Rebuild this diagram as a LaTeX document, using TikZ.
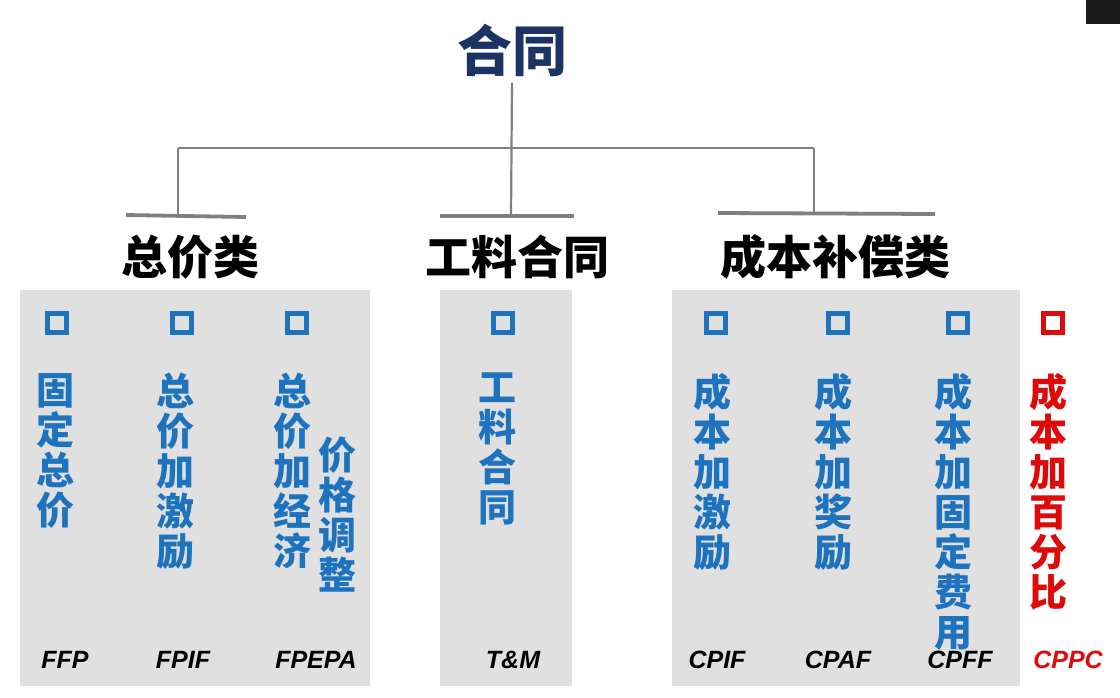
\documentclass[tikz,border=0pt]{standalone}
\usepackage{fontspec}
\newfontfamily\cjk{Noto Sans CJK SC}
\newfontfamily\lat{Liberation Sans}
\definecolor{cblue}{RGB}{30,115,190}
\definecolor{cred}{RGB}{222,10,10}
\definecolor{cnavy}{RGB}{28,52,100}
\definecolor{cpanel}{RGB}{224,224,224}
\definecolor{cline}{RGB}{128,128,128}
\begin{document}
\begin{tikzpicture}[x=1pt,y=-1pt,
  conn/.style={draw=cline,line width=2.2pt},
  bar/.style={draw=cline,line width=3.8pt},
  cat/.style={font=\cjk\bfseries\fontsize{46}{46}\selectfont,text=black,inner sep=0},
  vt/.style={font=\cjk\bfseries\fontsize{38}{40}\selectfont,text=cblue,align=center,anchor=north,inner sep=0},
  sq/.style={draw=cblue,line width=5pt,minimum size=19pt,inner sep=0},
  abbr/.style={font=\lat\bfseries\itshape\fontsize{25}{25}\selectfont,text=black,inner sep=0}
]
\useasboundingbox (0,0) rectangle (1120,697);
\fill[white] (0,0) rectangle (1120,697);
\fill[black!90] (1086,0) rectangle (1120,24);
% panels
\fill[cpanel] (20,290) rectangle (370,686);
\fill[cpanel] (440,290) rectangle (572,686);
\fill[cpanel] (672,290) rectangle (1020,686);
% title
\node[font=\cjk\bfseries\fontsize{55}{55}\selectfont,text=cnavy,inner sep=0] (root) at (512,50) {合同};
% tree
\coordinate (jc) at (511,148);
\coordinate (jl) at (178,148);
\coordinate (jr) at (814,148);
\coordinate (bl) at (178,216);
\coordinate (bm) at (511,217);
\coordinate (br) at (814,214);
\coordinate (bl1) at (126,215); \coordinate (bl2) at (246,217);
\coordinate (bm1) at (440,216); \coordinate (bm2) at (574,216);
\coordinate (br1) at (718,213); \coordinate (br2) at (935,214);
\draw[conn] (root.south) ++(0,6) -- (bm);
\draw[conn] (jl) -- (jr);
\draw[conn] (jl) -- (bl);
\draw[conn] (jr) -- (br);
\draw[bar] (bl1) -- (bl2);
\draw[bar] (bm1) -- (bm2);
\draw[bar] (br1) -- (br2);
% categories
\node[cat] (c1) at (190,257) {总价类};
\node[cat] (c2) at (517,257) {工料合同};
\node[cat] (c3) at (835,257) {成本补偿类};
% squares
\node[sq] (s1) at (57,323) {};
\node[sq] (s2) at (182,323) {};
\node[sq] (s3) at (297,323) {};
\node[sq] (s4) at (503,323) {};
\node[sq] (s5) at (716,323) {};
\node[sq] (s6) at (838,323) {};
\node[sq] (s7) at (958,323) {};
\node[sq,draw=cred] (s8) at (1053,323) {};
% vertical texts
\node[vt] (t1) at (55,373) {固\\定\\总\\价};
\node[vt] (t2) at (175,373) {总\\价\\加\\激\\励};
\node[vt] (t3) at (292,373) {总\\价\\加\\经\\济};
\node[vt] (t3b) at (337,437) {价\\格\\调\\整};
\node[vt] (t4) at (497,373) {工\\料\\合\\同};
\node[vt] (t5) at (712,373) {成\\本\\加\\激\\励};
\node[vt] (t6) at (833,373) {成\\本\\加\\奖\\励};
\node[vt] (t7) at (953,373) {成\\本\\加\\固\\定\\费\\用};
\node[vt,text=cred] (t8) at (1048,373) {成\\本\\加\\百\\分\\比};
% abbreviations
\node[abbr] (a1) at (65,660) {FFP};
\node[abbr] (a2) at (183,660) {FPIF};
\node[abbr] (a3) at (316,660) {FPEPA};
\node[abbr] (a4) at (513,660) {T\&M};
\node[abbr] (a5) at (717,660) {CPIF};
\node[abbr] (a6) at (838,660) {CPAF};
\node[abbr] (a7) at (960,660) {CPFF};
\node[abbr,text=cred] (a8) at (1068,660) {CPPC};
\end{tikzpicture}
\end{document}
